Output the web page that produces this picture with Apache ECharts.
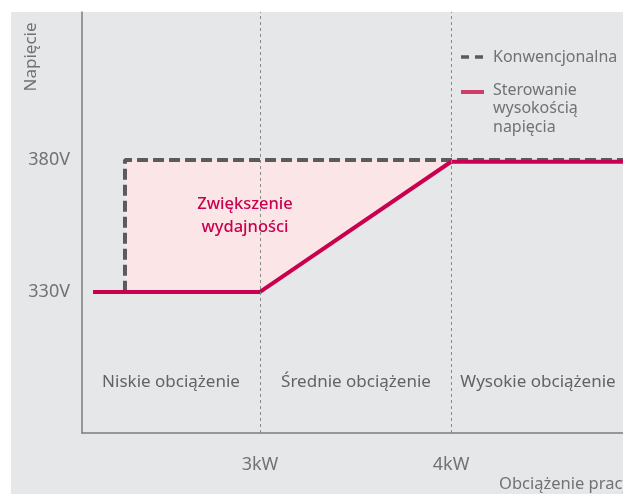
<!DOCTYPE html>
<html>
<head>
<meta charset="utf-8">
<script src="https://cdn.jsdelivr.net/npm/echarts@6/dist/echarts.min.js"></script>
<style>
  html, body { margin: 0; padding: 0; background: #ffffff; }
  #chart { width: 623px; height: 494px; }
</style>
</head>
<body>
<div id="chart"></div>
<script>
// Load (kW) and voltage (V) values
const conventionalX = [2.126, 2.293, 2.293, 5.1];
const conventionalY = [330, 330, 380, 380];
const controlledX = [2.126, 3, 4, 5.1];
const controlledY = [330, 330, 379.3, 379.3];
// Gain region: bounded by the conventional line on top and the controlled line below
const gainX = [2.293, 4, 4, 3, 2.293];
const gainY = [380, 380, 379.3, 330, 330];
const xTicks = [3, 4];
const xTickLabels = ['3kW', '4kW'];
const yTicks = [330, 380];
const yTickLabels = ['330V', '380V'];
const zoneNames = ['Niskie obciążenie', 'Średnie obciążenie', 'Wysokie obciążenie'];
const seriesNames = ['Konwencjonalna', 'Sterowanie\nwysokością\nnapięcia'];
const gainLabel = 'Zwiększenie\nwydajności';
const xName = 'Obciążenie pracy';
const yName = 'Napięcie';

const FONT = '"Noto Sans"';
const GRAY = '#727272';
const RED = '#c8004f';

const zip = (xs, ys) => xs.map((x, i) => [x, ys[i]]);

const chart = echarts.init(document.getElementById('chart'), null, { renderer: 'canvas' });

chart.setOption({
  animation: false,
  textStyle: { fontFamily: FONT },
  grid: { left: 82, top: 12, right: 0, bottom: 61, containLabel: false },
  xAxis: {
    type: 'value',
    min: 2.068,
    max: 4.9,
    axisLine: { show: true, lineStyle: { color: '#7d7d7d', width: 1.5 } },
    axisTick: { show: false },
    splitLine: { show: false },
    axisLabel: {
      customValues: xTicks,
      margin: 23,
      color: GRAY,
      fontSize: 18,
      fontFamily: FONT,
      formatter: v => xTickLabels[xTicks.indexOf(v)] || ''
    }
  },
  yAxis: {
    type: 'value',
    min: 276.6,
    max: 436,
    axisLine: { show: true, lineStyle: { color: '#7d7d7d', width: 1.5 } },
    axisTick: { show: false },
    splitLine: { show: false },
    axisLabel: {
      customValues: yTicks,
      margin: 12,
      color: GRAY,
      fontSize: 18,
      fontFamily: FONT,
      formatter: v => yTickLabels[yTicks.indexOf(v)] || ''
    }
  },
  graphic: [
    {
      type: 'rect', z: -100, zlevel: 0, silent: true,
      shape: { x: 11, y: 12, width: 700, height: 600 },
      style: { fill: '#e6e7e9' }
    },
    {
      type: 'text', x: 31, y: 57, rotation: Math.PI / 2,
      style: { text: yName, fill: GRAY, font: '17px ' + FONT, align: 'center', verticalAlign: 'middle' }
    },
    {
      type: 'text', x: 499, y: 484,
      style: { text: xName, fill: GRAY, font: '16.5px ' + FONT, align: 'left', verticalAlign: 'middle' }
    },
    // zone captions
    {
      type: 'text', x: 171, y: 382,
      style: { text: zoneNames[0], fill: '#636363', font: '17px ' + FONT, align: 'center', verticalAlign: 'middle' }
    },
    {
      type: 'text', x: 356, y: 382,
      style: { text: zoneNames[1], fill: '#636363', font: '17px ' + FONT, align: 'center', verticalAlign: 'middle' }
    },
    {
      type: 'text', x: 538, y: 382,
      style: { text: zoneNames[2], fill: '#636363', font: '17px ' + FONT, align: 'center', verticalAlign: 'middle' }
    },
    // gain caption
    {
      type: 'text', x: 245, y: 216, z: 10,
      style: { text: gainLabel, fill: RED, font: '500 16.5px ' + FONT, align: 'center', verticalAlign: 'middle', lineHeight: 23 }
    },
    // legend
    {
      type: 'line', shape: { x1: 461, y1: 57, x2: 484, y2: 57 },
      style: { stroke: '#5b5b5b', lineWidth: 3.5, lineDash: [8, 6] }
    },
    {
      type: 'text', x: 493, y: 57,
      style: { text: seriesNames[0], fill: GRAY, font: '16px ' + FONT, align: 'left', verticalAlign: 'middle' }
    },
    {
      type: 'line', shape: { x1: 461, y1: 92, x2: 484, y2: 92 },
      style: { stroke: '#d03d67', lineWidth: 4 }
    },
    {
      type: 'text', x: 493, y: 81,
      style: { text: seriesNames[1], fill: GRAY, font: '16px ' + FONT, align: 'left', verticalAlign: 'top', lineHeight: 18.5 }
    }
  ],
  series: [
    {
      name: 'gain',
      type: 'custom',
      z: 1,
      data: [0],
      renderItem: (params, api) => {
        const pts = gainX.map((x, i) => api.coord([x, gainY[i]]));
        return {
          type: 'polygon',
          shape: { points: pts },
          style: { fill: '#fbe5e6' }
        };
      }
    },
    {
      name: seriesNames[0],
      type: 'line',
      z: 2,
      symbol: 'none',
      data: zip(conventionalX, conventionalY),
      lineStyle: { color: '#5b5b5b', width: 4, type: [11, 5] },
      markLine: {
        silent: true,
        symbol: 'none',
        label: { show: false },
        lineStyle: { color: '#8a8a8a', width: 1, type: [3, 3] },
        data: xTicks.map(v => ({ xAxis: v }))
      }
    },
    {
      name: seriesNames[1],
      type: 'line',
      z: 3,
      symbol: 'none',
      data: zip(controlledX, controlledY),
      lineStyle: { color: RED, width: 4 }
    }
  ]
});
</script>
</body>
</html>
